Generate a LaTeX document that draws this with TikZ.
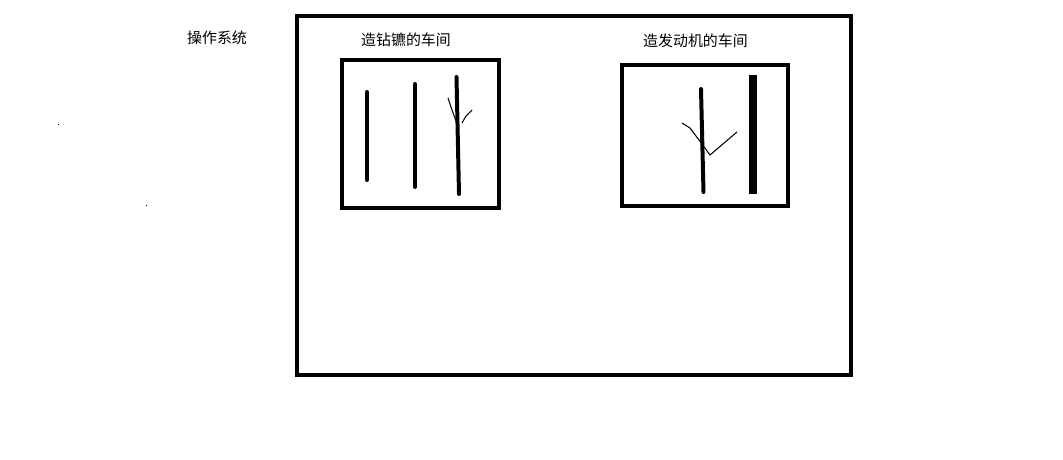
\documentclass[tikz,border=0pt]{standalone}
\usepackage{fontspec}
\newfontfamily\cjk{Noto Sans CJK SC}
\usepackage{tikz}
\usetikzlibrary{positioning}
\usepackage{xcolor}
\definecolor{inkblack}{HTML}{000000}
\tikzset{
  frame/.style={draw=inkblack, line width=4*0.567pt},
  bar/.style={draw=inkblack, line width=4*0.567pt, line cap=round},
  twig/.style={draw=inkblack, line width=0.6pt},
  label/.style={font=\cjk\fontsize{8.5}{10}\selectfont, text=inkblack, inner sep=0pt}
}

\begin{document}
\begin{tikzpicture}[x=0.02cm, y=-0.02cm]
      \useasboundingbox (0,0) rectangle (1063,460);
      % system frame and the two workshops
      \draw[frame] (297,16) rectangle (851,375);
      \draw[frame] (342,60) rectangle (499,208);
      \draw[frame] (622,65) rectangle (788,206);
      \node[label] (os) at (217,38) {操作系统};
      \node[label] (drill) at (406,40) {造钻镳的车间};
      \node[label] (engine) at (695.5,41) {造发动机的车间};
      % bars in the first workshop
      \foreach \x/\t/\b in {367/92/180, 415/84/187}
        \draw[bar] (\x,\t) -- (\x,\b);
      \draw[bar] (456.5,77) -- (459,194);
      \draw[twig] (448,98) -- (452,110) -- (456,121);
      \draw[twig] (472,110) -- (466,116) -- (462,123);
      % bars in the second workshop
      \draw[bar] (701,89) -- (703.5,192);
      \fill[inkblack] (749,75) rectangle (756.5,194);
      \draw[twig] (682,123) -- (690,128) -- (699,140) -- (710,155) -- (737,132);
      % stray dots
      \fill[inkblack] (57.5,123.5) rectangle (58.5,124.5);
      \fill[inkblack] (145.5,204.5) rectangle (146.5,205.5);
    \end{tikzpicture}
\end{document}
